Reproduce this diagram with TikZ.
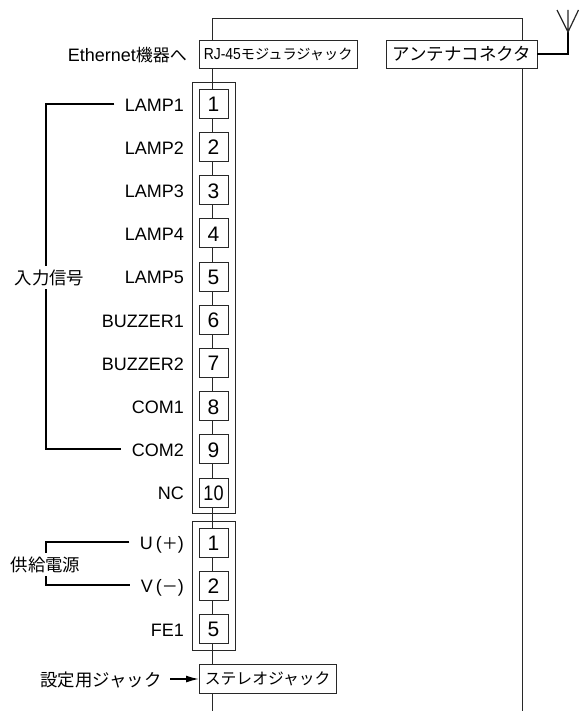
\documentclass[tikz,border=0pt]{standalone}
\usepackage{fontspec}
\setmainfont{Liberation Sans}
\newfontfamily\cjk{Noto Sans CJK JP}
\usepackage{xcolor}
\definecolor{Col1}{RGB}{40,40,40}
\usetikzlibrary{arrows.meta}
\tikzstyle{Term}=[draw=Col1,fill=white,inner sep=0pt,minimum width=29pt,minimum height=29pt,
text height=16.5pt,text depth=0pt,font=\fontsize{21}{21}\selectfont]
\tikzstyle{Jack}=[draw=Col1,fill=white,inner sep=0pt,minimum height=28.5pt,anchor=west,
font=\cjk\fontsize{15.8}{16}\selectfont]
\tikzstyle{Pin}=[anchor=east,text height=15pt,text depth=0pt,font=\fontsize{18}{18}\selectfont]
\tikzstyle{Note}=[inner xsep=0pt,inner ysep=3pt,fill=white,font=\cjk\fontsize{17.4}{18}\selectfont]
\tikzstyle{Wire}=[draw=Col1,line width=.9pt]
\tikzstyle{Lead}=[draw=black,line width=1.5pt]
\begin{document}
\begin{tikzpicture}[x=1pt,y=-1pt]
        \useasboundingbox(0,0)rectangle(578,711);
        % case outline and the line through all terminals
        \coordinate(ct)at(212.5,18);
        \coordinate(cl)at(212.5,711);
        \coordinate(cr)at(522.5,711);
        \draw[Wire](cl)--(ct)-|(cr);
        % terminal groups
        \draw[Wire](192,82)rectangle(235,513.5);
        \draw[Wire](192,521)rectangle(235,650);
        \node[Jack,minimum width=158pt,font=\cjk\fontsize{14.2}{16}\selectfont](rj)at(199,54)
            {\scalebox{.87}[1]{\rmfamily\fontsize{16}{16}\selectfont RJ-45}モジュラジャック};
        \node[Jack,minimum width=151pt,font=\cjk\fontsize{17.5}{18}\selectfont](ant)at(386,54){アンテナコネクタ};
        \node[Jack,minimum width=137pt](st)at(199,678.5){ステレオジャック};
        \foreach \n/\lab/\y in {a1/1/103.5,a2/2/146.7,a3/3/189.9,a4/4/233.1,a5/5/276.3,
            a6/6/319.5,a7/7/362.7,a8/8/405.9,a9/9/449.1,
            b1/1/542.5,b2/2/585.5,b5/5/628.5}{
            \node[Term](\n)at(213.5,\y){\lab};
        }
        \node[Term](a10)at(213.5,492.3){\scalebox{.86}[1]{10}};
        \node[Pin](lamp1)at(187.5,104){LAMP1};
        \node[Pin](lamp2)at(187.5,146.7){LAMP2};
        \node[Pin](lamp3)at(187.5,189.9){LAMP3};
        \node[Pin](lamp4)at(187.5,233.1){LAMP4};
        \node[Pin](lamp5)at(187.5,276.3){LAMP5};
        \node[Pin](buzzer1)at(187.5,319.5){BUZZER1};
        \node[Pin](buzzer2)at(187.5,362.7){BUZZER2};
        \node[Pin](com1)at(187.5,405.9){COM1};
        \node[Pin](com2)at(187.5,449){COM2};
        \node[Pin](nc)at(187.5,492.3){NC};
        \node[Pin](up)at(187.5,542){U\,({\cjk\fontsize{16}{16}\selectfont ＋})};
        \node[Pin](vm)at(187.5,585){V\,({\cjk\fontsize{16}{16}\selectfont －})};
        \node[Pin](fe)at(187.5,628.5){FE1};
        \node[Pin](eth)at(190.5,54.5){Ethernet{\cjk\fontsize{17}{17}\selectfont 機器へ}};
        % input signal bracket
        \coordinate(i1)at(46,104);
        \coordinate(i2)at(46,449);
        \draw[Lead,shorten <=7pt,shorten >=7pt](lamp1.west)--(i1)--(i2)--(com2.west);
        \node[Note](insig)at(49.5,277.5){入力信号};
        % supply bracket
        \coordinate(p1)at(46,542);
        \coordinate(p2)at(46,585);
        \draw[Lead,shorten <=7pt,shorten >=7pt](up.west)--(p1)--(p2)--(vm.west);
        \node[Note](supply)at(45.5,564.5){供給電源};
        % setting jack arrow
        \node[Note](setj)at(101,680){設定用ジャック};
        \coordinate(sa)at(170,679);
        \draw[Lead,-{Latex[length=13pt,width=7pt]}](sa)--(st.west|-sa);
        % antenna
        \coordinate(a1)at(568,32);
        \coordinate(a2)at(557,10);
        \coordinate(a3)at(578.5,10);
        \coordinate(a4)at(568,10);
        \draw[Lead](ant.east)-|(a1);
        \draw[Wire,line width=1.2pt](a2)--(a1)--(a3)(a1)--(a4);
\end{tikzpicture}
\end{document}
